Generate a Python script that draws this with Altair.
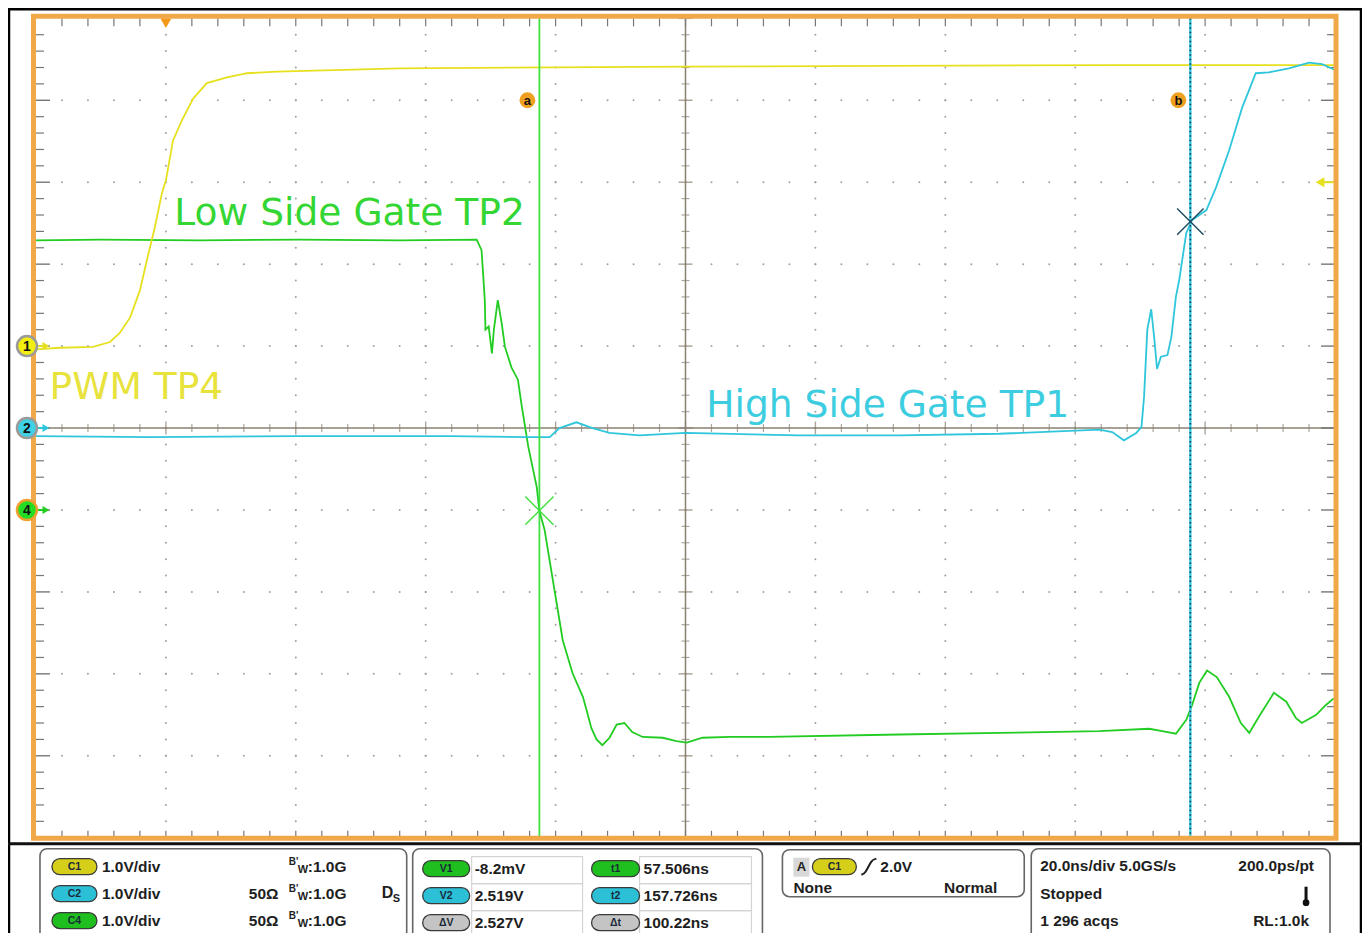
import altair as alt
import pandas as pd

# ---------------- waveform data (time in ns, amplitude in V) ----------------
pwm_t = [-20.0, -16.3, -11.2, -8.6, -7.1, -5.5, -4.0, -2.8, -1.7, -0.6, 0.0, 1.1, 2.5, 4.2,
         6.3, 9.4, 12.5, 17.1, 36.0, 80.0, 145.2, 180.0]
pwm_v = [-0.04, -0.02, -0.01, 0.05, 0.16, 0.35, 0.68, 1.09, 1.45, 1.87, 2.02, 2.51, 2.76, 3.02,
         3.21, 3.28, 3.33, 3.35, 3.39, 3.41, 3.43, 3.43]

low_t = [-20.0, -10.15, 5.23, 20.6, 36.0, 47.85, 48.6, 48.8, 49.1, 49.2, 49.7, 50.2, 50.5, 51.1,
         51.7, 52.2, 53.2, 54.2, 54.8, 55.8, 57.1, 57.5, 58.3, 61.1, 62.6, 64.2, 64.9, 65.5,
         66.3, 67.2, 68.3, 69.4, 70.6, 71.8, 73.4, 76.5, 78.6, 80.2, 82.6, 86.8, 92.9, 112.9,
         128.3, 143.7, 151.4, 153.4, 155.5, 157.1, 158.0, 159.1, 160.3, 161.8, 163.7, 165.5,
         166.8, 168.3, 170.6, 172.5, 174.0, 174.9, 177.1, 178.6, 179.8]
low_v = [3.29, 3.30, 3.29, 3.30, 3.29, 3.30, 3.17, 2.93, 2.56, 2.20, 2.24, 1.91, 2.20, 2.56,
         2.28, 1.99, 1.74, 1.59, 1.26, 0.77, 0.28, -0.01, -0.24, -1.59, -1.99, -2.28, -2.48, -2.66,
         -2.80, -2.87, -2.78, -2.62, -2.60, -2.71, -2.77, -2.78, -2.82, -2.84, -2.78, -2.77, -2.77, -2.74,
         -2.72, -2.70, -2.67, -2.70, -2.73, -2.56, -2.38, -2.11, -1.96, -2.04, -2.28, -2.60,
         -2.72, -2.52, -2.23, -2.34, -2.54, -2.60, -2.50, -2.38, -2.30]

high_t = [-20.0, -2.46, 20.6, 43.7, 55.2, 59.1, 60.6, 63.2, 65.7, 68.3, 72.9, 80.0, 97.5, 112.9,
          128.3, 143.7, 145.7, 147.5, 149.4, 150.2, 150.6, 151.1, 151.7, 152.2, 152.6, 153.2,
          154.2, 154.8, 155.5, 156.0, 157.1, 158.0, 160.2, 161.7, 163.7, 165.7, 167.8, 169.8,
          172.9, 176.0, 178.0, 180.0]
high_v = [-0.10, -0.11, -0.10, -0.10, -0.11, -0.11, 0.0, 0.07, 0.0, -0.06, -0.09, -0.06, -0.09, -0.09,
          -0.07, -0.02, -0.05, -0.15, -0.06, 0.01, 0.38, 1.20, 1.45, 1.07, 0.72, 0.87,
          0.89, 1.11, 1.60, 1.80, 2.38, 2.54, 2.66, 2.94, 3.39, 3.91, 4.33, 4.34,
          4.39, 4.46, 4.44, 4.37]

# channel setup
ch_names = ["1", "2", "4"]
ch_offsets = [1.0, 0.0, -1.0]          # divisions
volts_per_div = 1.0
trig_level = 2.0

# cursor readouts
t1, t2, dt = 57.506, 157.726, 100.22
v1, v2, dv = -0.0082, 2.519, 2.527

labels = ["Low Side Gate TP2", "PWM TP4", "High Side Gate TP1"]

ch_rows = ["1.0V/div", "1.0V/div", "1.0V/div"]
ch_pills = ["C1", "C2", "C4"]
meas_left = ["V1", "V2", "ΔV"]
meas_left_vals = ["-8.2mV", "2.519V", "2.527V"]
meas_right = ["t1", "t2", "Δt"]
meas_right_vals = ["57.506ns", "157.726ns", "100.22ns"]
trig_texts = ["2.0V", "None", "Normal"]
acq_texts = ["20.0ns/div  5.0GS/s", "200.0ps/pt", "Stopped", "1 296 acqs", "RL:1.0k"]

# ---------------- styling ----------------
W, H = 1300, 820
X_DOM = [-20, 180]
Y_DOM = [-5, 5]
YEL, GRN, CYN = "#e6e01e", "#22cc22", "#2fc6dc"
YEL_T, GRN_T, CYN_T = "#e8e23c", "#33d633", "#3dcde0"
ORANGE = "#f0a848"
AXC = "#8a8070"
FONT = "Liberation Sans"
PFS = 15.5


def xs():
    return alt.Scale(domain=X_DOM, nice=False, zero=False)


def ys():
    return alt.Scale(domain=Y_DOM, nice=False, zero=False)


def X(f="t"):
    return alt.X(f"{f}:Q", scale=xs(), axis=None)


def Y(f="d"):
    return alt.Y(f"{f}:Q", scale=ys(), axis=None)


def PX(f="px"):
    return alt.X(f"{f}:Q", scale=None, axis=None)


def PY(f="py"):
    return alt.Y(f"{f}:Q", scale=None, axis=None)


one = pd.DataFrame({"k": [0]})
layers = []

# ---------- graticule ----------
minor_t = [round(X_DOM[0] + 4 * k, 3) for k in range(51)]
minor_d = [round(-5 + 0.2 * k, 3) for k in range(51)]
major_t = [X_DOM[0] + 20 * k for k in range(11)]
major_d = list(range(-5, 6))
dots = []
for mt in major_t[1:-1]:
    if mt == 80:
        continue
    for md in minor_d[1:-1]:
        dots.append({"t": mt, "d": md})
for md in major_d[1:-1]:
    if md == 0:
        continue
    for mt in minor_t[1:-1]:
        dots.append({"t": mt, "d": md})
layers.append(alt.Chart(pd.DataFrame(dots)).mark_circle(size=4, color="#a0a0a0", opacity=1)
              .encode(x=X(), y=Y()))

# center cross
layers.append(alt.Chart(one).mark_rule(color=AXC, strokeWidth=1.5)
              .encode(y=alt.value(H / 2), x=alt.value(0), x2=alt.value(W)))
layers.append(alt.Chart(one).mark_rule(color=AXC, strokeWidth=1.5)
              .encode(x=alt.value(W / 2), y=alt.value(0), y2=alt.value(H)))
ct = pd.DataFrame({"t": minor_t, "d": 0.0, "maj": [(v % 20 == 0) for v in minor_t]})
layers.append(alt.Chart(ct[~ct.maj]).mark_tick(orient="vertical", size=8, thickness=1.2, color=AXC)
              .encode(x=X(), y=Y()))
layers.append(alt.Chart(ct[ct.maj]).mark_tick(orient="vertical", size=13, thickness=1.4, color=AXC)
              .encode(x=X(), y=Y()))
cv = pd.DataFrame({"t": 80.0, "d": minor_d, "maj": [abs(v - round(v)) < 1e-6 for v in minor_d]})
layers.append(alt.Chart(cv[~cv.maj]).mark_tick(orient="horizontal", size=8, thickness=1.2, color=AXC)
              .encode(x=X(), y=Y()))
layers.append(alt.Chart(cv[cv.maj]).mark_tick(orient="horizontal", size=14, thickness=1.5, color=AXC)
              .encode(x=X(), y=Y()))

# border ticks
bt = pd.DataFrame({"t": minor_t[1:-1]})
layers.append(alt.Chart(bt).mark_rule(color="#777", strokeWidth=1.2)
              .encode(x=X(), y=alt.value(0), y2=alt.value(8)))
layers.append(alt.Chart(bt).mark_rule(color="#777", strokeWidth=1.2)
              .encode(x=X(), y=alt.value(H - 7), y2=alt.value(H)))
bd = pd.DataFrame({"d": minor_d[1:-1]})
bd["len"] = [14 if abs(v - round(v)) < 1e-6 else 8 for v in bd.d]
for lenv in (8, 14):
    sub = bd[bd.len == lenv]
    layers.append(alt.Chart(sub).mark_rule(color="#777", strokeWidth=1.4 if lenv == 14 else 1.2)
                  .encode(y=Y(), x=alt.value(0), x2=alt.value(lenv)))
    layers.append(alt.Chart(sub).mark_rule(color="#777", strokeWidth=1.4 if lenv == 14 else 1.2)
                  .encode(y=Y(), x=alt.value(W - lenv), x2=alt.value(W)))


# ---------- traces ----------
def trace(t, v, off, color):
    df = pd.DataFrame({"t": t, "d": [vv / volts_per_div + off for vv in v], "i": list(range(len(t)))})
    return alt.Chart(df).mark_line(color=color, strokeWidth=1.8, clip=True).encode(
        x=X(), y=Y(), order="i:Q")


layers.append(trace(low_t, low_v, ch_offsets[2], GRN))
layers.append(trace(pwm_t, pwm_v, ch_offsets[0], YEL))
layers.append(trace(high_t, high_v, ch_offsets[1], CYN))

# ---------- cursors ----------
cur = pd.DataFrame({"t": [t1]})
layers.append(alt.Chart(cur).mark_rule(color="#3fe03f", strokeWidth=1.8)
              .encode(x=X(), y=alt.value(0), y2=alt.value(H)))
cur2 = pd.DataFrame({"t": [t2]})
layers.append(alt.Chart(cur2).mark_rule(color="#35c8dc", strokeWidth=2.4)
              .encode(x=X(), y=alt.value(0), y2=alt.value(H)))
layers.append(alt.Chart(cur2).mark_rule(color="#163850", strokeWidth=1.6, strokeDash=[1.5, 3])
              .encode(x=X(), y=alt.value(0), y2=alt.value(H)))
XPATH = "M -1 -1 L 1 1 M -1 1 L 1 -1"
layers.append(alt.Chart(pd.DataFrame({"t": [t1], "d": [v1 / volts_per_div + ch_offsets[2]]}))
              .mark_point(shape=XPATH, size=800, filled=False, strokeWidth=1.4, color="#3fe03f", opacity=1)
              .encode(x=X(), y=Y()))
layers.append(alt.Chart(pd.DataFrame({"t": [t2], "d": [v2 / volts_per_div + ch_offsets[1]]}))
              .mark_point(shape=XPATH, size=700, filled=False, strokeWidth=1.4, color="#1d4a60", opacity=1)
              .encode(x=X(), y=Y()))
ab = pd.DataFrame({"t": [t1, t2], "d": [4.0, 4.0], "lab": ["a", "b"]})
layers.append(alt.Chart(ab).mark_circle(size=250, color="#f0a020", opacity=1, xOffset=-12)
              .encode(x=X(), y=Y()))
layers.append(alt.Chart(ab).mark_text(font=FONT, fontWeight="bold", fontSize=13, color="#111", xOffset=-12, dy=1)
              .encode(x=X(), y=Y(), text="lab:N"))

# ---------- trace labels ----------
lab_df = pd.DataFrame({"t": [1.3, -17.9, 83.2], "d": [2.48, 0.354, 0.134],
                       "text": labels, "c": [GRN_T, YEL_T, CYN_T]})
layers.append(alt.Chart(lab_df).mark_text(font="DejaVu Sans", fontSize=37.6, align="left", baseline="alphabetic")
              .encode(x=X(), y=Y(), text="text:N", color=alt.Color("c:N", scale=None)))

# ---------- trigger markers ----------
layers.append(alt.Chart(pd.DataFrame({"t": [0.0]})).mark_point(shape="triangle-down", filled=True, size=120,
                                                                color="#f39a1a", opacity=1)
              .encode(x=X(), y=alt.value(5)))
tl = pd.DataFrame({"d": [trig_level / volts_per_div + ch_offsets[0]]})
layers.append(alt.Chart(tl).mark_rule(color=YEL, strokeWidth=2).encode(y=Y(), x=alt.value(1287), x2=alt.value(W)))
layers.append(alt.Chart(tl).mark_point(shape="triangle-left", filled=True, size=100, color=YEL, opacity=1)
              .encode(y=Y(), x=alt.value(1285)))

# ---------- frame ----------
layers.append(alt.Chart(one).mark_rect(fillOpacity=0, stroke=ORANGE, strokeWidth=5)
              .encode(x=alt.value(-2.5), x2=alt.value(W + 1), y=alt.value(-2), y2=alt.value(H + 0.5)))

# channel ground markers on the left
chdf = pd.DataFrame({"d": ch_offsets, "n": ch_names,
                     "fill": ["#f2ee10", "#3ed2e6", "#22dd22"],
                     "stroke": ["#9a9a9a", "#9a9a9a", "#f0a030"],
                     "arrow": [YEL, CYN, "#22cc22"]})
for _, r in chdf.iterrows():
    sub = pd.DataFrame([r])
    layers.append(alt.Chart(sub).mark_rule(color=r["arrow"], strokeWidth=2)
                  .encode(y=Y(), x=alt.value(-2), x2=alt.value(8)))
    layers.append(alt.Chart(sub).mark_point(shape="triangle-right", filled=True, size=65, color=r["arrow"], opacity=1)
                  .encode(y=Y(), x=alt.value(10)))
    layers.append(alt.Chart(sub).mark_circle(size=400, color=r["fill"], opacity=1, stroke=r["stroke"], strokeWidth=2.5)
                  .encode(y=Y(), x=alt.value(-9)))
layers.append(alt.Chart(chdf).mark_text(font=FONT, fontWeight="bold", fontSize=14, color="#111", dy=1)
              .encode(y=Y(), x=alt.value(-9), text="n:N"))

# ---------- outer border & separator ----------
layers.append(alt.Chart(one).mark_rect(fillOpacity=0, stroke="#000", strokeWidth=2.5)
              .encode(x=alt.value(-27), x2=alt.value(1326), y=alt.value(-9), y2=alt.value(960)))
layers.append(alt.Chart(one).mark_rule(color="#111", strokeWidth=3)
              .encode(y=alt.value(826), x=alt.value(-28), x2=alt.value(1327)))

# ---------- readout panel ----------
boxes = pd.DataFrame({"x0": [4, 377, 747, 996], "x1": [371, 727, 989, 1295],
                      "y0": [831, 831, 832, 831], "y1": [960, 960, 879, 960]})
layers.append(alt.Chart(boxes).mark_rect(fill="white", stroke="#666", strokeWidth=1.6, cornerRadius=7)
              .encode(x=PX("x0"), x2="x1:Q", y=PY("y0"), y2="y1:Q"))
cells = []
for yy0 in (839, 866, 893):
    for xx0, xx1 in ((436, 547), (604, 716)):
        cells.append({"x0": xx0, "x1": xx1, "y0": yy0, "y1": yy0 + 27})
layers.append(alt.Chart(pd.DataFrame(cells)).mark_rect(fillOpacity=0, stroke="#d4d4d4", strokeWidth=1.2)
              .encode(x=PX("x0"), x2="x1:Q", y=PY("y0"), y2="y1:Q"))

rows_y = [849, 876, 903]
pill_fill = {"C1": "#d6cf1a", "C2": "#2bc0d6", "C4": "#1fbf1f", "V1": "#1fbf1f", "V2": "#2bc0d6",
             "ΔV": "#c4c4c4", "t1": "#1fbf1f", "t2": "#2bc0d6", "Δt": "#c4c4c4"}
pills = []
for i in range(3):
    pills.append({"lab": ch_pills[i], "x0": 16, "x1": 61, "yc": rows_y[i]})
    pills.append({"lab": meas_left[i], "x0": 387, "x1": 434, "yc": rows_y[i] + 2})
    pills.append({"lab": meas_right[i], "x0": 556, "x1": 604, "yc": rows_y[i] + 2})
pills.append({"lab": "C1", "x0": 777, "x1": 821, "yc": 849})
pdf = pd.DataFrame(pills)
pdf["y0"] = pdf.yc - 8
pdf["y1"] = pdf.yc + 8
pdf["fill"] = [pill_fill[l] for l in pdf.lab]
pdf["xc"] = (pdf.x0 + pdf.x1) / 2
layers.append(alt.Chart(pdf).mark_rect(stroke="#3a3a3a", strokeWidth=1.3, cornerRadius=8)
              .encode(x=PX("x0"), x2="x1:Q", y=PY("y0"), y2="y1:Q", fill=alt.Fill("fill:N", scale=None)))
layers.append(alt.Chart(pdf).mark_text(font=FONT, fontWeight="bold", fontSize=10.5, color="#1a2a3a")
              .encode(x=PX("xc"), y=PY("yc"), text="lab:N"))

# "A" source box
layers.append(alt.Chart(one).mark_rect(fill="#d8d8d8").encode(
    x=alt.value(758), x2=alt.value(774), y=alt.value(840), y2=alt.value(859)))

ptxt = []
for i in range(3):
    ptxt.append({"text": ch_rows[i], "px": 66, "py": rows_y[i], "a": "left", "s": PFS})
    ptxt.append({"text": ":1.0G", "px": 272, "py": rows_y[i], "a": "left", "s": PFS})
    ptxt.append({"text": "B'", "px": 253, "py": rows_y[i] - 5, "a": "left", "s": 10})
    ptxt.append({"text": "W", "px": 262, "py": rows_y[i] + 3, "a": "left", "s": 11})
    ptxt.append({"text": meas_left_vals[i], "px": 439, "py": rows_y[i] + 2, "a": "left", "s": PFS})
    ptxt.append({"text": meas_right_vals[i], "px": 608, "py": rows_y[i] + 2, "a": "left", "s": PFS})
for i in (1, 2):
    ptxt.append({"text": "50Ω", "px": 213, "py": rows_y[i], "a": "left", "s": PFS})
ptxt += [
    {"text": "D", "px": 346, "py": 875, "a": "left", "s": 16},
    {"text": "S", "px": 357, "py": 881, "a": "left", "s": 11},
    {"text": "A", "px": 766, "py": 849, "a": "center", "s": 13},
    {"text": trig_texts[0], "px": 845, "py": 849, "a": "left", "s": PFS},
    {"text": trig_texts[1], "px": 758, "py": 870, "a": "left", "s": PFS},
    {"text": trig_texts[2], "px": 962, "py": 870, "a": "right", "s": PFS},
    {"text": acq_texts[0], "px": 1005, "py": 848, "a": "left", "s": PFS},
    {"text": acq_texts[1], "px": 1279, "py": 848, "a": "right", "s": PFS},
    {"text": acq_texts[2], "px": 1005, "py": 876, "a": "left", "s": PFS},
    {"text": acq_texts[3], "px": 1005, "py": 903, "a": "left", "s": PFS},
    {"text": acq_texts[4], "px": 1274, "py": 903, "a": "right", "s": PFS},
]
tdf = pd.DataFrame(ptxt)
for (al, sz), sub in tdf.groupby(["a", "s"]):
    layers.append(alt.Chart(sub).mark_text(font=FONT, fontWeight="bold", fontSize=float(sz), align=al,
                                           baseline="middle", color="#1e1e1e")
                  .encode(x=PX("px"), y=PY("py"), text="text:N"))

# rising-edge glyph
edge = pd.DataFrame({"px": [826, 830, 836, 841], "py": [857, 856, 842, 841], "i": [0, 1, 2, 3]})
layers.append(alt.Chart(edge).mark_line(color="#1e1e1e", strokeWidth=2, interpolate="basis")
              .encode(x=PX("px"), y=PY("py"), order="i:Q"))
# thermometer icon
layers.append(alt.Chart(one).mark_rule(color="#111", strokeWidth=3).encode(
    x=alt.value(1271), y=alt.value(869), y2=alt.value(884)))
layers.append(alt.Chart(one).mark_circle(color="#111", size=45, opacity=1).encode(
    x=alt.value(1271), y=alt.value(885)))

chart = alt.layer(*layers).resolve_scale(x="independent", y="independent").properties(
    width=W, height=H,
    autosize=alt.AutoSizeParams(type="none"),
    padding={"left": 28, "top": 10, "right": 27, "bottom": 95},
    background="white",
).configure_view(stroke=None)

chart.save("out.html", embed_options={"renderer": "svg", "actions": False})
